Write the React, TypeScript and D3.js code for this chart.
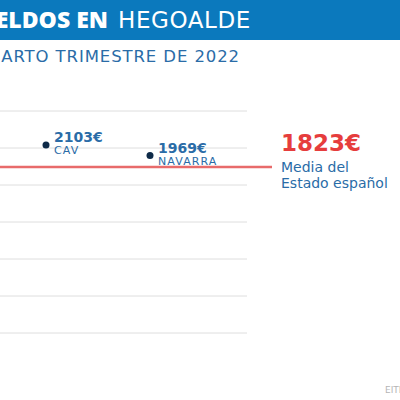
import React from 'react';
import * as d3 from 'd3';

// values
const regions = ['CAV', 'NAVARRA'];
const salaries = [2103, 1969];
const stateAverage = 1823;
const averageLabel = ['Media del', 'Estado español'];
const gridRows = [0, 1, 2, 3, 4, 5, 6];
const titleBold = 'SUELDOS EN';
const titleLight = 'HEGOALDE';
const subtitle = 'CUARTO TRIMESTRE DE 2022';
const source = 'EITB';

const W = 400;
const H = 400;
const font = '"DejaVu Sans", sans-serif';
const blue = '#0b79bd';
const textBlue = '#2a6ca7';
const red = '#e63d3d';

const fmt = (v: number) => `${v}€`;

const App: React.FC = () => {
  const x = d3.scalePoint<string>().domain(regions).range([46, 150]);
  const y = d3.scaleLinear().domain([1800, 2150]).range([168.8, 141.3]);
  const grid = d3.scaleLinear().domain([0, 6]).range([111, 333]);
  const gridRight = 247;
  const avgY = y(stateAverage);

  return (
    <svg
      width={W}
      height={H}
      style={{ position: 'absolute', left: 0, top: 0, display: 'block', background: '#fff' }}
      fontFamily={font}
    >
      {/* header banner */}
      <rect x={0} y={0} width={W} height={40} fill={blue} />
      <text
        x={108}
        y={28}
        textAnchor="end"
        fill="#fff"
        fontFamily='"Open Sans", sans-serif'
        fontSize={23}
        fontWeight={800}
      >
        {titleBold}
      </text>
      <text x={118} y={28} fill="#fff" fontSize={23} fontWeight={400} letterSpacing={0.6}>
        {titleLight}
      </text>
      <text x={240} y={62} textAnchor="end" fill={textBlue} fontSize={16.5} letterSpacing={0.9}>
        {subtitle}
      </text>

      {/* gridlines */}
      {gridRows.map(r => (
        <line key={r} x1={0} x2={gridRight} y1={grid(r)} y2={grid(r)} stroke="#dedede" strokeWidth={1} />
      ))}

      {/* state average */}
      <line x1={0} x2={272} y1={avgY} y2={avgY} stroke="#e86b6b" strokeWidth={2.5} />
      <text x={281} y={avgY - 16} fill={red} fontSize={23} fontWeight={700}>
        {fmt(stateAverage)}
      </text>
      {averageLabel.map((t, i) => (
        <text key={t} x={281} y={avgY + 5 + i * 16} fill={textBlue} fontSize={14}>
          {t}
        </text>
      ))}

      {/* regions */}
      {regions.map((r, i) => {
        const cx = x(r) || 0;
        const cy = y(salaries[i]);
        return (
          <g key={r}>
            <circle cx={cx} cy={cy} r={3.5} fill="#0e2a48" />
            <text x={cx + 8} y={cy - 3} fill={textBlue} fontSize={14} fontWeight={700}>
              {fmt(salaries[i])}
            </text>
            <text x={cx + 8} y={cy + 9} fill={textBlue} fontSize={11} letterSpacing={1.1}>
              {r}
            </text>
          </g>
        );
      })}

      <text x={385} y={393} fill="#b5b5b5" fontSize={9}>
        {source}
      </text>
    </svg>
  );
};

export default App;
